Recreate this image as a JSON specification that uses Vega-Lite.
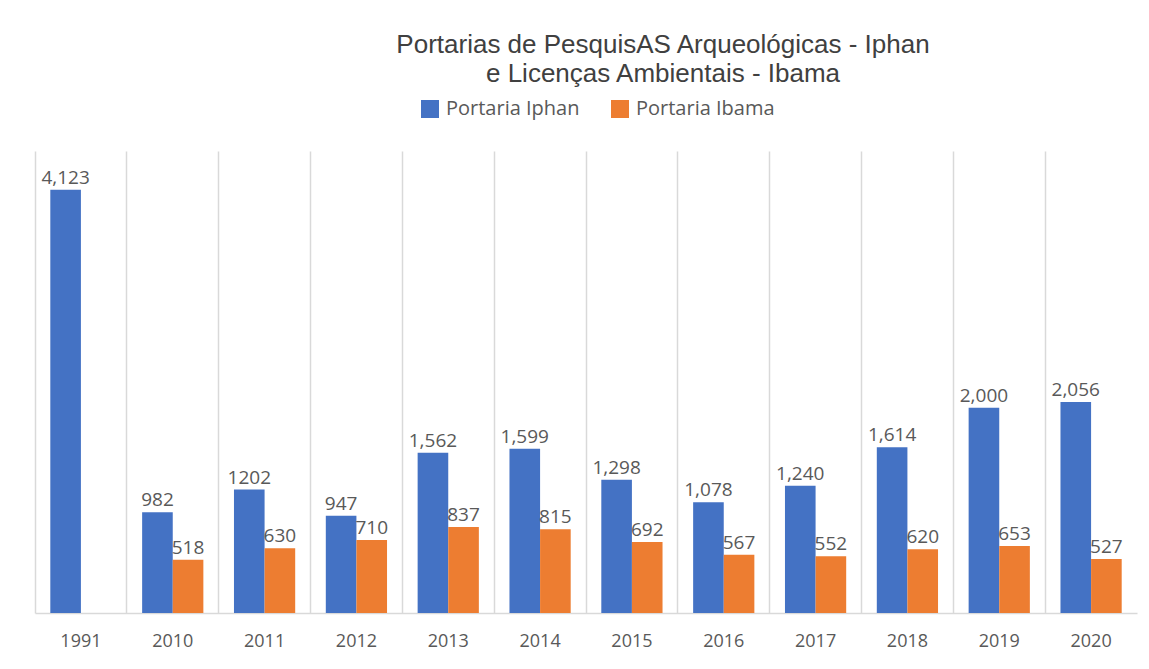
{
  "$schema": "https://vega.github.io/schema/vega-lite/v6.json",
  "width": 1102,
  "height": 462,
  "autosize": {"type": "none"},
  "padding": {"left": 35, "top": 151, "right": 12, "bottom": 56},
  "background": "white",
  "config": {"view": {"stroke": null}, "font": "Open Sans"},
  "title": {
    "text": ["Portarias de PesquisAS Arqueológicas - Iphan", "e Licenças Ambientais - Ibama"],
    "font": "Liberation Sans",
    "fontSize": 26,
    "fontWeight": "normal",
    "color": "#404040",
    "lineHeight": 29,
    "anchor": "middle",
    "dx": 77,
    "offset": 12
  },
  "data": {
    "values": [
      {"year": "1991", "series": "Portaria Iphan", "value": 4123, "label": "4,123"},
      {"year": "2010", "series": "Portaria Iphan", "value": 982, "label": "982"},
      {"year": "2010", "series": "Portaria Ibama", "value": 518, "label": "518"},
      {"year": "2011", "series": "Portaria Iphan", "value": 1202, "label": "1202"},
      {"year": "2011", "series": "Portaria Ibama", "value": 630, "label": "630"},
      {"year": "2012", "series": "Portaria Iphan", "value": 947, "label": "947"},
      {"year": "2012", "series": "Portaria Ibama", "value": 710, "label": "710"},
      {"year": "2013", "series": "Portaria Iphan", "value": 1562, "label": "1,562"},
      {"year": "2013", "series": "Portaria Ibama", "value": 837, "label": "837"},
      {"year": "2014", "series": "Portaria Iphan", "value": 1599, "label": "1,599"},
      {"year": "2014", "series": "Portaria Ibama", "value": 815, "label": "815"},
      {"year": "2015", "series": "Portaria Iphan", "value": 1298, "label": "1,298"},
      {"year": "2015", "series": "Portaria Ibama", "value": 692, "label": "692"},
      {"year": "2016", "series": "Portaria Iphan", "value": 1078, "label": "1,078"},
      {"year": "2016", "series": "Portaria Ibama", "value": 567, "label": "567"},
      {"year": "2017", "series": "Portaria Iphan", "value": 1240, "label": "1,240"},
      {"year": "2017", "series": "Portaria Ibama", "value": 552, "label": "552"},
      {"year": "2018", "series": "Portaria Iphan", "value": 1614, "label": "1,614"},
      {"year": "2018", "series": "Portaria Ibama", "value": 620, "label": "620"},
      {"year": "2019", "series": "Portaria Iphan", "value": 2000, "label": "2,000"},
      {"year": "2019", "series": "Portaria Ibama", "value": 653, "label": "653"},
      {"year": "2020", "series": "Portaria Iphan", "value": 2056, "label": "2,056"},
      {"year": "2020", "series": "Portaria Ibama", "value": 527, "label": "527"}
    ]
  },
  "encoding": {
    "x": {
      "field": "year",
      "type": "nominal",
      "sort": null,
      "scale": {"type": "band", "paddingInner": 0, "paddingOuter": 0}
    },
    "xOffset": {
      "field": "series",
      "type": "nominal",
      "sort": ["Portaria Iphan", "Portaria Ibama"],
      "scale": {"domain": ["Portaria Iphan", "Portaria Ibama"], "paddingInner": 0, "paddingOuter": 0.5}
    },
    "y": {
      "field": "value",
      "type": "quantitative",
      "scale": {"domain": [0, 4500], "nice": false},
      "axis": null
    }
  },
  "layer": [
    {
      "mark": {"type": "bar"},
      "encoding": {
        "x": {
          "field": "year",
          "type": "nominal",
          "sort": null,
          "axis": {
            "title": null,
            "labelAngle": 0,
            "labelFont": "Open Sans",
            "labelFontSize": 18,
            "labelColor": "#595959",
            "labelPadding": 19,
            "ticks": false,
            "grid": false,
            "domain": true,
            "domainColor": "#d9d9d9",
            "domainWidth": 1.5
          }
        },
        "color": {
          "field": "series",
          "type": "nominal",
          "scale": {"domain": ["Portaria Iphan", "Portaria Ibama"], "range": ["#4472C4", "#ED7D31"]},
          "legend": {
            "title": null,
            "orient": "none",
            "direction": "horizontal",
            "legendX": 385,
            "legendY": -52,
            "symbolType": "square",
            "symbolSize": 324,
            "symbolStrokeWidth": 0,
            "labelFont": "Open Sans",
            "labelFontSize": 20,
            "labelColor": "#595959",
            "columnPadding": 30,
            "labelOffset": 6
          }
        }
      }
    },
    {
      "mark": {"type": "text", "baseline": "alphabetic", "dy": -6, "fontSize": 19, "font": "Open Sans", "color": "#595959"},
      "encoding": {
        "x": {
          "field": "year",
          "type": "nominal",
          "sort": null,
          "axis": {
            "title": null,
            "bandPosition": 0,
            "labels": false,
            "ticks": false,
            "domain": false,
            "grid": true,
            "gridColor": "#d9d9d9",
            "gridWidth": 1.5
          }
        },
        "text": {"field": "label", "type": "nominal"}
      }
    }
  ],
  "resolve": {"axis": {"x": "independent"}}
}
